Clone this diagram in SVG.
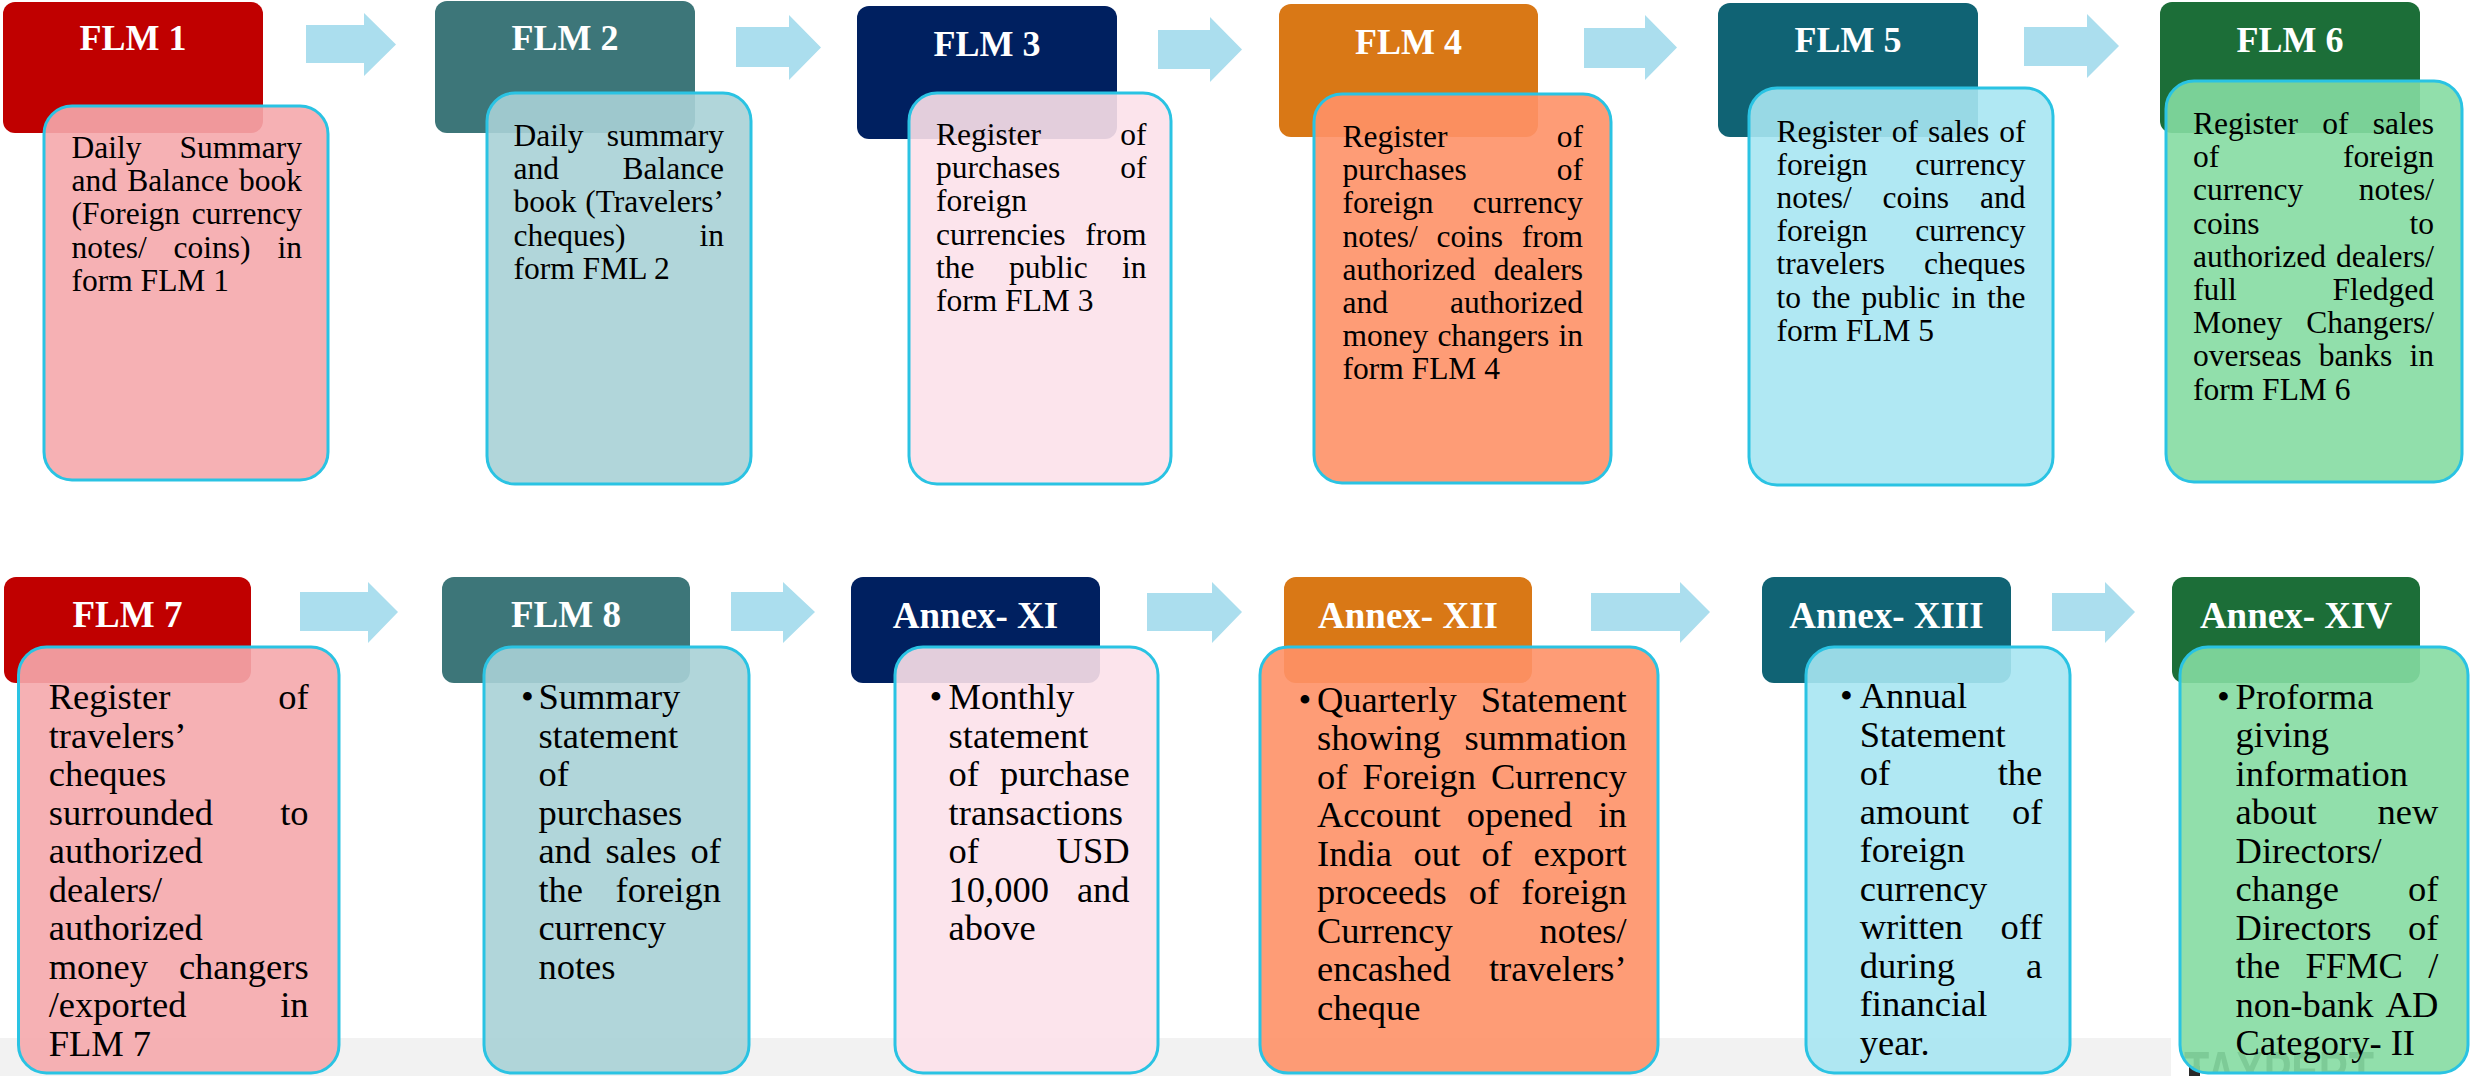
<svg xmlns="http://www.w3.org/2000/svg" width="2470" height="1076" viewBox="0 0 2470 1076">
<style>
.hdr{rx:12px}
.ht{font-family:"Liberation Serif","Times New Roman",serif;font-weight:bold;fill:#fff;text-anchor:middle}
.ht1{font-size:36px}
.ht2{font-size:37px}
.body{stroke:#2ac3e3;stroke-width:3;fill-opacity:0.9}
.t{font-family:"Liberation Serif","Times New Roman",serif;fill:#000}
.t1{font-size:31.5px}
.t2{font-size:36.5px}
.e{text-anchor:end}
.arrow{fill:#abdeee}
</style>
<defs>
<clipPath id="wmclip"><rect x="2180" y="647" width="288" height="426" rx="28"/></clipPath>
</defs>
<rect x="0" y="1038" width="2171" height="38" fill="#f2f2f2"/>
<g id="connectors">
<polygon class="arrow" points="306,25 364,25 364,13 396,44.5 364,76 364,63 306,63"/>
<polygon class="arrow" points="736,27 789,27 789,15 821,47.5 789,80 789,67 736,67"/>
<polygon class="arrow" points="1158,30 1210,30 1210,17 1242,49.5 1210,82 1210,69 1158,69"/>
<polygon class="arrow" points="1584,28 1645,28 1645,15 1677,47.5 1645,80 1645,68 1584,68"/>
<polygon class="arrow" points="2024,27 2087,27 2087,14 2119,46 2087,78 2087,66 2024,66"/>
<polygon class="arrow" points="300,592 368,592 368,582 398,612 368,643 368,631 300,631"/>
<polygon class="arrow" points="731,592 783,592 783,582 815,612 783,643 783,631 731,631"/>
<polygon class="arrow" points="1147,593 1212,593 1212,582 1242,612 1212,643 1212,631 1147,631"/>
<polygon class="arrow" points="1591,593 1680,593 1680,582 1710,612 1680,643 1680,631 1591,631"/>
<polygon class="arrow" points="2052,593 2105,593 2105,582 2135,612 2105,643 2105,631 2052,631"/>
</g>

<g id="flm1">
<rect class="hdr" x="3" y="2" width="260" height="131" fill="#c00000"/>
<text class="ht ht1" x="133" y="50">FLM 1</text>
<rect class="body" x="44" y="106" width="284" height="374" rx="28" fill="#f5a8ac"/>
<text class="t t1"><tspan x="71.5" y="158">Daily</tspan><tspan class="e" x="302" y="158">Summary</tspan><tspan x="71.5" y="191.2">and</tspan><tspan x="127.3" y="191.2">Balance</tspan><tspan class="e" x="302" y="191.2">book</tspan><tspan x="71.5" y="224.4">(Foreign</tspan><tspan class="e" x="302" y="224.4">currency</tspan><tspan x="71.5" y="257.6">notes/</tspan><tspan x="173.6" y="257.6">coins)</tspan><tspan class="e" x="302" y="257.6">in</tspan><tspan x="71.5" y="290.8">form FLM 1</tspan></text>
</g>

<g id="flm2">
<rect class="hdr" x="435" y="1" width="260" height="132" fill="#3d7679"/>
<text class="ht ht1" x="565" y="50">FLM 2</text>
<rect class="body" x="487" y="93" width="264" height="391" rx="28" fill="#a9d2d6"/>
<text class="t t1"><tspan x="513.5" y="146">Daily</tspan><tspan class="e" x="724" y="146">summary</tspan><tspan x="513.5" y="179.2">and</tspan><tspan class="e" x="724" y="179.2">Balance</tspan><tspan x="513.5" y="212.4">book</tspan><tspan class="e" x="724" y="212.4">(Travelers’</tspan><tspan x="513.5" y="245.6">cheques)</tspan><tspan class="e" x="724" y="245.6">in</tspan><tspan x="513.5" y="278.8">form FML 2</tspan></text>
</g>

<g id="flm3">
<rect class="hdr" x="857" y="6" width="260" height="133" fill="#002060"/>
<text class="ht ht1" x="987" y="56">FLM 3</text>
<rect class="body" x="909" y="93" width="262" height="391" rx="28" fill="#fce1ea"/>
<text class="t t1"><tspan x="936" y="145">Register</tspan><tspan class="e" x="1146.6" y="145">of</tspan><tspan x="936" y="178.2">purchases</tspan><tspan class="e" x="1146.6" y="178.2">of</tspan><tspan x="936" y="211.4">foreign</tspan><tspan x="936" y="244.6">currencies</tspan><tspan class="e" x="1146.6" y="244.6">from</tspan><tspan x="936" y="277.8">the</tspan><tspan x="1008.9" y="277.8">public</tspan><tspan class="e" x="1146.6" y="277.8">in</tspan><tspan x="936" y="311">form FLM 3</tspan></text>
</g>

<g id="flm4">
<rect class="hdr" x="1279" y="4" width="259" height="133" fill="#d97816"/>
<text class="ht ht1" x="1408.5" y="54">FLM 4</text>
<rect class="body" x="1314" y="94" width="297" height="389" rx="28" fill="#fe9167"/>
<text class="t t1"><tspan x="1342.5" y="147">Register</tspan><tspan class="e" x="1583" y="147">of</tspan><tspan x="1342.5" y="180.2">purchases</tspan><tspan class="e" x="1583" y="180.2">of</tspan><tspan x="1342.5" y="213.4">foreign</tspan><tspan class="e" x="1583" y="213.4">currency</tspan><tspan x="1342.5" y="246.6">notes/</tspan><tspan x="1436.5" y="246.6">coins</tspan><tspan class="e" x="1583" y="246.6">from</tspan><tspan x="1342.5" y="279.8">authorized</tspan><tspan class="e" x="1583" y="279.8">dealers</tspan><tspan x="1342.5" y="313">and</tspan><tspan class="e" x="1583" y="313">authorized</tspan><tspan x="1342.5" y="346.2">money</tspan><tspan x="1437.4" y="346.2">changers</tspan><tspan class="e" x="1583" y="346.2">in</tspan><tspan x="1342.5" y="379.4">form FLM 4</tspan></text>
</g>

<g id="flm5">
<rect class="hdr" x="1718" y="3" width="260" height="134" fill="#106374"/>
<text class="ht ht1" x="1848" y="52">FLM 5</text>
<rect class="body" x="1749" y="88" width="304" height="397" rx="28" fill="#a7e5f2"/>
<text class="t t1"><tspan x="1776.6" y="141.5">Register</tspan><tspan x="1891.7" y="141.5">of</tspan><tspan x="1928" y="141.5">sales</tspan><tspan class="e" x="2025.4" y="141.5">of</tspan><tspan x="1776.6" y="174.7">foreign</tspan><tspan class="e" x="2025.4" y="174.7">currency</tspan><tspan x="1776.6" y="207.9">notes/</tspan><tspan x="1882.6" y="207.9">coins</tspan><tspan class="e" x="2025.4" y="207.9">and</tspan><tspan x="1776.6" y="241.1">foreign</tspan><tspan class="e" x="2025.4" y="241.1">currency</tspan><tspan x="1776.6" y="274.3">travelers</tspan><tspan class="e" x="2025.4" y="274.3">cheques</tspan><tspan x="1776.6" y="307.5">to</tspan><tspan x="1812.1" y="307.5">the</tspan><tspan x="1861.6" y="307.5">public</tspan><tspan x="1951.4" y="307.5">in</tspan><tspan class="e" x="2025.4" y="307.5">the</tspan><tspan x="1776.6" y="340.7">form FLM 5</tspan></text>
</g>

<g id="flm6">
<rect class="hdr" x="2160" y="2" width="260" height="131" fill="#1c6e38"/>
<text class="ht ht1" x="2290" y="52">FLM 6</text>
<rect class="body" x="2166" y="81" width="296" height="401" rx="28" fill="#85dba2"/>
<text class="t t1"><tspan x="2193" y="134">Register</tspan><tspan x="2322.3" y="134">of</tspan><tspan class="e" x="2434" y="134">sales</tspan><tspan x="2193" y="167.2">of</tspan><tspan class="e" x="2434" y="167.2">foreign</tspan><tspan x="2193" y="200.4">currency</tspan><tspan class="e" x="2434" y="200.4">notes/</tspan><tspan x="2193" y="233.6">coins</tspan><tspan class="e" x="2434" y="233.6">to</tspan><tspan x="2193" y="266.8">authorized</tspan><tspan class="e" x="2434" y="266.8">dealers/</tspan><tspan x="2193" y="300">full</tspan><tspan class="e" x="2434" y="300">Fledged</tspan><tspan x="2193" y="333.2">Money</tspan><tspan class="e" x="2434" y="333.2">Changers/</tspan><tspan x="2193" y="366.4">overseas</tspan><tspan x="2318.8" y="366.4">banks</tspan><tspan class="e" x="2434" y="366.4">in</tspan><tspan x="2193" y="399.6">form FLM 6</tspan></text>
</g>

<g id="flm7">
<rect class="hdr" x="4" y="577" width="247" height="106" fill="#c00000"/>
<text class="ht ht2" x="127.5" y="627">FLM 7</text>
<rect class="body" x="18.5" y="647" width="320.5" height="426" rx="28" fill="#f5a8ac"/>
<text class="t t2"><tspan x="48.7" y="709">Register</tspan><tspan class="e" x="308.6" y="709">of</tspan><tspan x="48.7" y="747.5">travelers’</tspan><tspan x="48.7" y="786">cheques</tspan><tspan x="48.7" y="824.5">surrounded</tspan><tspan class="e" x="308.6" y="824.5">to</tspan><tspan x="48.7" y="863">authorized</tspan><tspan x="48.7" y="901.5">dealers/</tspan><tspan x="48.7" y="940">authorized</tspan><tspan x="48.7" y="978.5">money</tspan><tspan class="e" x="308.6" y="978.5">changers</tspan><tspan x="48.7" y="1017">/exported</tspan><tspan class="e" x="308.6" y="1017">in</tspan><tspan x="48.7" y="1055.5">FLM 7</tspan></text>
</g>

<g id="flm8">
<rect class="hdr" x="442" y="577" width="248" height="106" fill="#3d7679"/>
<text class="ht ht2" x="566" y="627">FLM 8</text>
<rect class="body" x="484" y="647" width="265" height="426" rx="28" fill="#a9d2d6"/>
<text class="t t2"><tspan x="521" y="709">•</tspan><tspan x="538.4" y="709">Summary</tspan><tspan x="538.4" y="747.5">statement</tspan><tspan x="538.4" y="786">of</tspan><tspan x="538.4" y="824.5">purchases</tspan><tspan x="538.4" y="863">and</tspan><tspan x="605.4" y="863">sales</tspan><tspan class="e" x="721" y="863">of</tspan><tspan x="538.4" y="901.5">the</tspan><tspan class="e" x="721" y="901.5">foreign</tspan><tspan x="538.4" y="940">currency</tspan><tspan x="538.4" y="978.5">notes</tspan></text>
</g>

<g id="annex-xi">
<rect class="hdr" x="851" y="577" width="249" height="106" fill="#002060"/>
<text class="ht ht2" x="975.5" y="628">Annex- XI</text>
<rect class="body" x="895" y="647" width="263" height="426" rx="28" fill="#fce1ea"/>
<text class="t t2"><tspan x="929.5" y="709">•</tspan><tspan x="948.6" y="709">Monthly</tspan><tspan x="948.6" y="747.5">statement</tspan><tspan x="948.6" y="786">of</tspan><tspan class="e" x="1129.6" y="786">purchase</tspan><tspan x="948.6" y="824.5">transactions</tspan><tspan x="948.6" y="863">of</tspan><tspan class="e" x="1129.6" y="863">USD</tspan><tspan x="948.6" y="901.5">10,000</tspan><tspan class="e" x="1129.6" y="901.5">and</tspan><tspan x="948.6" y="940">above</tspan></text>
</g>

<g id="annex-xii">
<rect class="hdr" x="1284" y="577" width="248" height="106" fill="#d97816"/>
<text class="ht ht2" x="1408" y="628">Annex- XII</text>
<rect class="body" x="1260" y="647" width="398" height="426" rx="28" fill="#fe9167"/>
<text class="t t2"><tspan x="1298.5" y="711.5">•</tspan><tspan x="1317" y="711.5">Quarterly</tspan><tspan class="e" x="1626.7" y="711.5">Statement</tspan><tspan x="1317" y="750">showing</tspan><tspan class="e" x="1626.7" y="750">summation</tspan><tspan x="1317" y="788.5">of</tspan><tspan x="1362.4" y="788.5">Foreign</tspan><tspan class="e" x="1626.7" y="788.5">Currency</tspan><tspan x="1317" y="827">Account</tspan><tspan x="1466.8" y="827">opened</tspan><tspan class="e" x="1626.7" y="827">in</tspan><tspan x="1317" y="865.5">India</tspan><tspan x="1413.5" y="865.5">out</tspan><tspan x="1481.6" y="865.5">of</tspan><tspan class="e" x="1626.7" y="865.5">export</tspan><tspan x="1317" y="904">proceeds</tspan><tspan x="1468.8" y="904">of</tspan><tspan class="e" x="1626.7" y="904">foreign</tspan><tspan x="1317" y="942.5">Currency</tspan><tspan class="e" x="1626.7" y="942.5">notes/</tspan><tspan x="1317" y="981">encashed</tspan><tspan class="e" x="1626.7" y="981">travelers’</tspan><tspan x="1317" y="1019.5">cheque</tspan></text>
</g>

<g id="annex-xiii">
<rect class="hdr" x="1762" y="577" width="249" height="106" fill="#106374"/>
<text class="ht ht2" x="1886.5" y="628">Annex- XIII</text>
<rect class="body" x="1806" y="647" width="264" height="426" rx="28" fill="#a7e5f2"/>
<text class="t t2"><tspan x="1840" y="708">•</tspan><tspan x="1859.7" y="708">Annual</tspan><tspan x="1859.7" y="746.5">Statement</tspan><tspan x="1859.7" y="785">of</tspan><tspan class="e" x="2042.3" y="785">the</tspan><tspan x="1859.7" y="823.5">amount</tspan><tspan class="e" x="2042.3" y="823.5">of</tspan><tspan x="1859.7" y="862">foreign</tspan><tspan x="1859.7" y="900.5">currency</tspan><tspan x="1859.7" y="939">written</tspan><tspan class="e" x="2042.3" y="939">off</tspan><tspan x="1859.7" y="977.5">during</tspan><tspan class="e" x="2042.3" y="977.5">a</tspan><tspan x="1859.7" y="1016">financial</tspan><tspan x="1859.7" y="1054.5">year.</tspan></text>
</g>

<g id="annex-xiv">
<rect class="hdr" x="2172" y="577" width="248" height="106" fill="#1c6e38"/>
<text class="ht ht2" x="2296" y="628">Annex- XIV</text>
<rect x="2189" y="1066" width="11" height="10" fill="#2a2a2a"/>
<g clip-path="url(#wmclip)"><text x="2184" y="1092" font-family="Liberation Sans, Arial, sans-serif" font-weight="bold" font-size="58" fill="#3a3a3a" textLength="190" lengthAdjust="spacingAndGlyphs">TAXPERT</text></g>
<rect class="body" x="2180" y="647" width="288" height="426" rx="28" fill="#85dba2"/>
<text class="t t2"><tspan x="2217" y="708.5">•</tspan><tspan x="2235.6" y="708.5">Proforma</tspan><tspan x="2235.6" y="747">giving</tspan><tspan x="2235.6" y="785.5">information</tspan><tspan x="2235.6" y="824">about</tspan><tspan class="e" x="2438.3" y="824">new</tspan><tspan x="2235.6" y="862.5">Directors/</tspan><tspan x="2235.6" y="901">change</tspan><tspan class="e" x="2438.3" y="901">of</tspan><tspan x="2235.6" y="939.5">Directors</tspan><tspan class="e" x="2438.3" y="939.5">of</tspan><tspan x="2235.6" y="978">the</tspan><tspan x="2305.5" y="978">FFMC</tspan><tspan class="e" x="2438.3" y="978">/</tspan><tspan x="2235.6" y="1016.5">non-bank</tspan><tspan class="e" x="2438.3" y="1016.5">AD</tspan><tspan x="2235.6" y="1055">Category- II</tspan></text>
</g>
</svg>
